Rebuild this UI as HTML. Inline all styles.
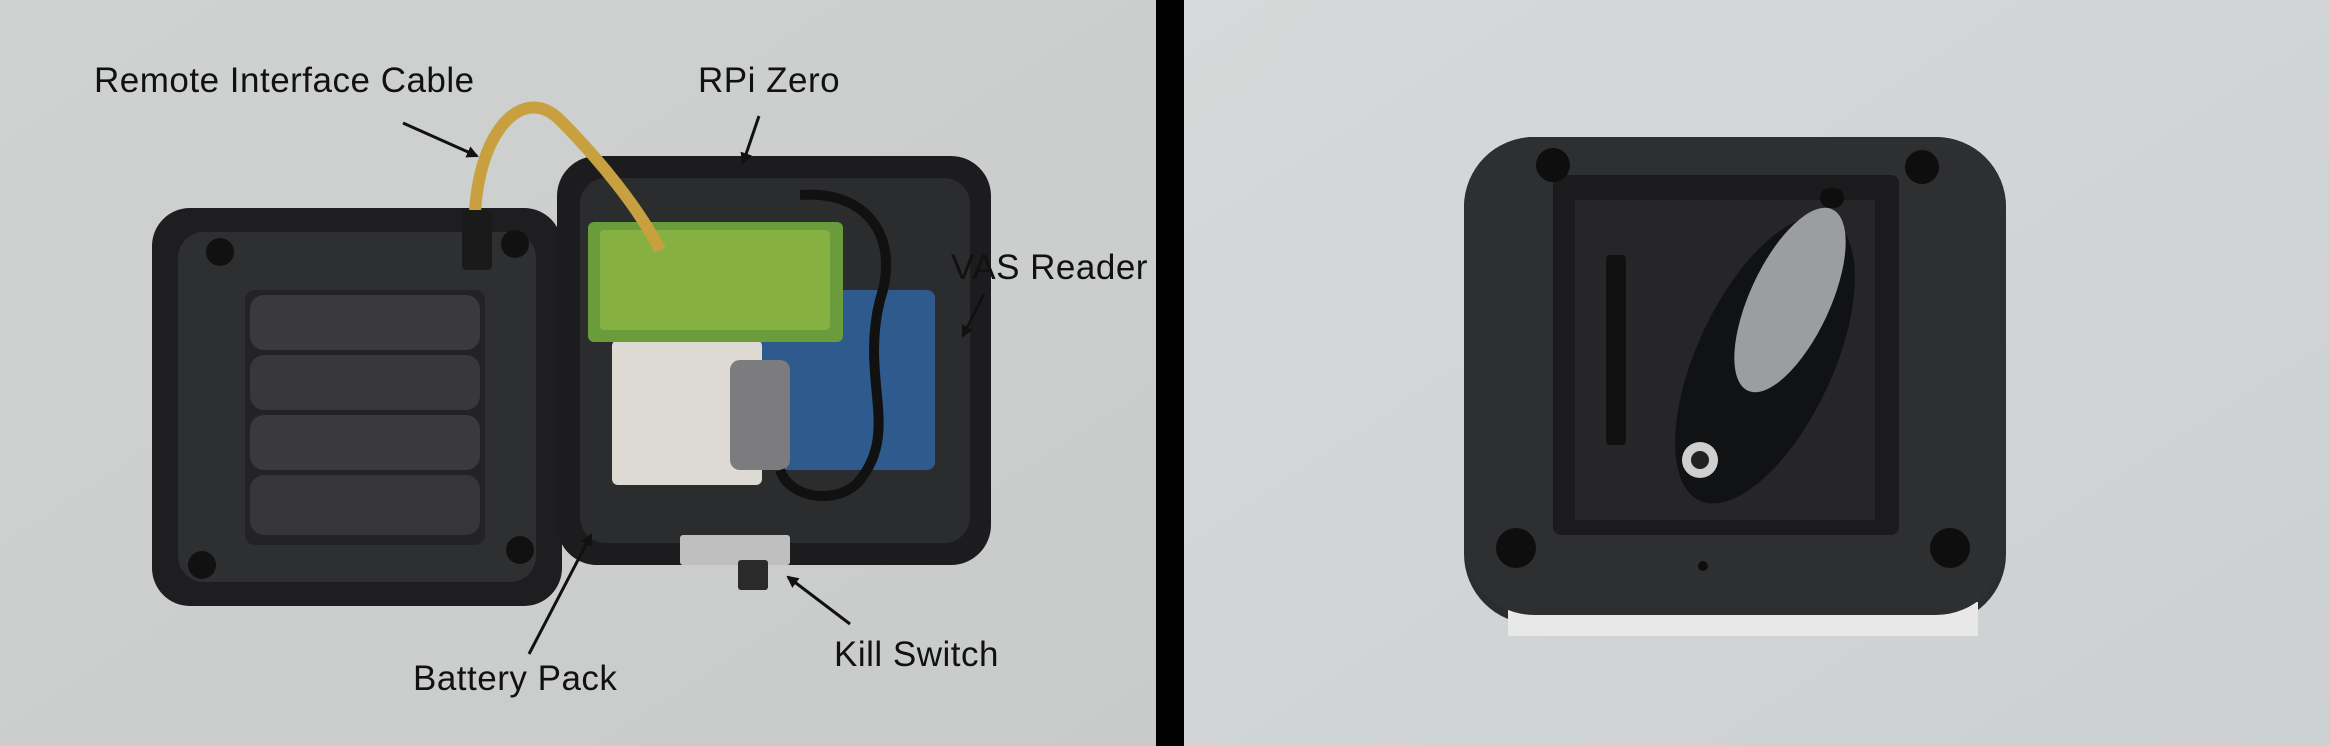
<!DOCTYPE html>
<html><head><meta charset="utf-8">
<style>
html,body{margin:0;padding:0;background:#000;}
svg{display:block;}
text{font-family:"Liberation Sans",sans-serif;fill:#111;}
</style></head>
<body>
<svg width="2330" height="746" viewBox="0 0 2330 746" xmlns="http://www.w3.org/2000/svg">
<defs>
<linearGradient id="bgL" x1="0" y1="0" x2="1" y2="1">
<stop offset="0" stop-color="#d0d2d2"/><stop offset="1" stop-color="#c9cbcb"/></linearGradient>
<linearGradient id="bgR" x1="0" y1="0" x2="1" y2="1">
<stop offset="0" stop-color="#d6d8d9"/><stop offset="1" stop-color="#cdd0d1"/></linearGradient>
<marker id="ah" markerWidth="12" markerHeight="12" refX="10" refY="6" orient="auto" markerUnits="userSpaceOnUse">
<path d="M0,0 L12,6 L0,12 z" fill="#111"/></marker>
</defs>
<rect x="0" y="0" width="1156" height="746" fill="url(#bgL)"/>
<rect x="1156" y="0" width="28" height="746" fill="#000"/>
<rect x="1184" y="0" width="1146" height="746" fill="url(#bgR)"/>

<!-- battery case -->
<rect x="152" y="208" width="410" height="398" rx="38" fill="#1e1e20"/>
<rect x="178" y="232" width="358" height="350" rx="26" fill="#2e2f31"/>
<rect x="245" y="290" width="240" height="255" rx="10" fill="#232325"/>
<rect x="250" y="295" width="230" height="55" rx="14" fill="#3a3a3c"/>
<rect x="250" y="355" width="230" height="55" rx="14" fill="#38383a"/>
<rect x="250" y="415" width="230" height="55" rx="14" fill="#3a3a3c"/>
<rect x="250" y="475" width="230" height="60" rx="14" fill="#363638"/>
<circle cx="220" cy="252" r="14" fill="#111"/><circle cx="515" cy="244" r="14" fill="#111"/>
<circle cx="202" cy="565" r="14" fill="#111"/><circle cx="520" cy="550" r="14" fill="#111"/>

<!-- electronics case -->
<rect x="557" y="156" width="434" height="409" rx="40" fill="#1c1c1e"/>
<rect x="580" y="178" width="390" height="365" rx="26" fill="#2b2c2e"/>
<rect x="740" y="290" width="195" height="180" rx="8" fill="#2f5a8e"/>
<rect x="612" y="340" width="150" height="145" rx="6" fill="#dcdad2"/>
<rect x="588" y="222" width="255" height="120" rx="6" fill="#6a9c3c"/>
<rect x="600" y="230" width="230" height="100" rx="4" fill="#8fb545" opacity="0.8"/>
<rect x="730" y="360" width="60" height="110" rx="10" fill="#7c7c7f"/>
<rect x="680" y="535" width="110" height="30" rx="3" fill="#bfbfbf"/>
<rect x="738" y="560" width="30" height="30" rx="3" fill="#2a2a2a"/>
<path d="M800,195 C870,190 900,240 880,300 C860,380 900,430 860,480 C840,505 790,500 780,470" stroke="#111" stroke-width="10" fill="none"/>
<path d="M475,240 C470,140 520,80 560,120 C600,160 640,210 660,250" stroke="#c8a040" stroke-width="12" fill="none"/>
<rect x="462" y="210" width="30" height="60" rx="4" fill="#1a1a1a"/>

<!-- right device -->
<rect x="1464" y="137" width="542" height="487" rx="70" fill="#2b2c2e"/>
<rect x="1508" y="602" width="470" height="34" fill="#e8e8e8"/>
<rect x="1464" y="137" width="542" height="478" rx="70" fill="#2e2f31"/>
<rect x="1553" y="175" width="346" height="360" rx="8" fill="#1b1b1d"/>
<rect x="1575" y="200" width="300" height="320" fill="#262628"/>
<circle cx="1553" cy="165" r="17" fill="#0e0e0e"/><circle cx="1922" cy="167" r="17" fill="#0e0e0e"/>
<circle cx="1516" cy="548" r="20" fill="#0e0e0e"/><circle cx="1950" cy="548" r="20" fill="#0e0e0e"/>
<circle cx="1703" cy="566" r="5" fill="#0e0e0e"/>
<rect x="1820" y="188" width="24" height="20" rx="10" fill="#0e0e0e"/>
<ellipse cx="1765" cy="360" rx="68" ry="155" transform="rotate(25 1765 360)" fill="#111214"/>
<ellipse cx="1790" cy="300" rx="40" ry="100" transform="rotate(25 1790 300)" fill="#9c9d9f"/>
<circle cx="1700" cy="460" r="18" fill="#cfcfcf"/><circle cx="1700" cy="460" r="9" fill="#222"/>
<rect x="1606" y="255" width="20" height="190" rx="4" fill="#111"/>

<!-- labels -->
<g font-size="35" letter-spacing="0.5">
<text x="94" y="92">Remote Interface Cable</text>
<text x="698" y="92">RPi Zero</text>
<text x="413" y="690">Battery Pack</text>
<text x="834" y="666">Kill Switch</text>
</g>
<g stroke="#111" stroke-width="3" fill="none" marker-end="url(#ah)">
<line x1="403" y1="123" x2="477" y2="156"/>
<line x1="759" y1="116" x2="743" y2="163"/>
<line x1="984" y1="294" x2="963" y2="336"/>
<line x1="529" y1="654" x2="591" y2="535"/>
<line x1="850" y1="624" x2="788" y2="577"/>
</g>
<text x="951" y="279" font-size="35" letter-spacing="0.5">VAS Reader</text>
</svg>
</body></html>
